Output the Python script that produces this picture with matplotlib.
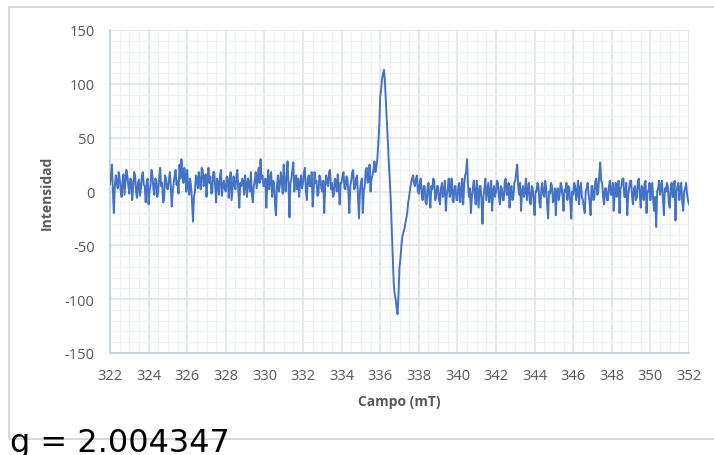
import numpy as np
import matplotlib.pyplot as plt
from matplotlib.patches import Rectangle
from matplotlib.ticker import MultipleLocator

plt.rcParams['axes.unicode_minus'] = False

# Field (mT): 322.00 .. 352.00 step 0.05
campo_start = 322.0
campo_step = 0.05

intensidad = [
    # 322
    7, 15, 25, 0, -20, 5, 15, 8, 3, 18, 12, 2, -5, 10, 16, -3, 8, 20, 14, 5,
    # 323
    -2, 12, 10, -8, 4, 18, 15, 0, -6, 8, 11, -4, 2, 14, 18, 6, 5, -10, 8, 12,
    # 324
    -12, 0, 6, 20, 15, 2, -3, 12, 10, -5, 0, 14, 22, 5, 8, -10, -8, 15, 12, 3,
    # 325
    2, 10, 18, 5, -14, 0, 8, 15, 20, 6, 10, -2, 25, 12, 30, 18, 8, 22, 15, 0,
    # 326
    20, 5, -3, 12, 5, -10, -28, -5, 0, 15, 12, 3, 18, 8, 2, 22, 20, 5, 10, 16,
    # 327
    -5, 10, 22, 8, 14, -2, 0, 18, 18, 5, -10, 12, 8, -3, 15, 20, -4, 6, 10, 2,
    # 328
    0, 14, 12, -6, 8, 18, -8, 3, 14, 6, 2, 15, 20, 0, -15, 8, 5, 12, 10, -3,
    # 329
    15, 6, -5, 12, 8, 0, 18, -3, -10, 5, 10, 18, 3, 12, 22, 8, 30, 12, 15, 5,
    # 330
    5, 12, -15, 8, 20, 2, 12, 18, -5, 10, 8, -12, -22, 5, 15, 0, 5, 18, 10, -2,
    # 331
    25, 10, 0, 15, 28, 5, -24, 8, 12, 20, 27, 0, 10, 15, 2, 12, -5, 8, 15, 3,
    # 332
    8, 18, 22, 0, -8, 12, 15, 5, 5, 18, -14, 0, 18, 8, 10, -4, -2, 15, 12, 3,
    # 333
    0, 10, -20, 5, 15, 8, 5, 18, 20, 2, 8, -5, -3, 12, 10, 0, 16, 5, -12, 8,
    # 334
    8, 15, 18, 3, 2, 14, 12, 0, -20, 5, 10, 18, 20, 2, 4, 12, 15, -5, -25, 0,
    # 335
    8, 12, -20, 0, 5, 20, 22, 8, 10, 25, 0, 12, 15, 20, 28, 18, 22, 30, 45, 60,
    # 336
    88, 95, 105, 110, 113, 100, 82, 62, 45, 25, 10, -10, -35, -60, -85, -95, -100, -108, -114, -95,
    # 337
    -70, -62, -50, -42, -38, -35, -30, -25, -20, -10, -5, 2, 8, 12, 15, 8, 5, 12, 15, 0,
    # 338
    -2, 8, 12, -3, -8, 5, 5, -10, -12, 3, 8, -5, -15, 5, 2, 12, 10, -8, -5, 5,
    # 339
    5, -8, -12, 3, 8, -5, 0, 10, -18, -3, 3, 12, -5, 0, 12, -8, -10, 5, 5, -8,
    # 340
    -8, 5, 8, -10, 0, 12, -12, 5, 15, 18, 30, 5, -5, 3, -20, -5, 3, 10, -3, -12,
    # 341
    10, -2, -15, 5, 5, -8, -30, -5, 3, 12, -8, 0, 8, -10, -2, 10, -18, 0, 5, -5,
    # 342
    0, 10, 8, -5, -12, 5, 3, -8, -8, 8, 12, -3, -3, 8, -15, 0, 5, -8, -5, 8,
    # 343
    10, 18, 25, 5, -3, 8, -18, 0, 5, -5, 0, 12, -8, 3, 8, -10, -12, 5, 3, -8,
    # 344
    -22, 0, 0, 8, 5, -10, -15, 3, 8, -3, -5, 10, 3, -12, -25, 0, -2, 8, 5, -10,
    # 345
    -8, 3, -22, 0, 3, -8, -3, 8, 5, -5, -18, 2, 0, 8, -8, 5, 3, -10, -25, 0,
    # 346
    -3, 8, 5, -8, 0, 10, -12, 3, 8, -5, -8, -15, -20, 0, 3, 8, -3, -10, -22, 5,
    # 347
    5, -8, -5, 10, 12, -3, 0, 15, 27, 10, 8, -5, -12, 3, 3, -8, -8, 5, 10, -3,
    # 348
    -3, 8, -18, 0, 8, -5, 0, 10, -20, 3, 5, 12, 12, -5, -5, 8, -22, -3, 3, 10,
    # 349
    10, -5, -12, 3, 5, -8, -5, 10, 12, -3, -15, 5, 3, -8, 8, 10, -20, 0, 0, 8,
    # 350
    -8, 5, 8, -10, -18, -5, -33, 0, 3, 10, -3, 5, 10, -8, -22, 3, 0, 8, 5, -10,
    # 351
    -15, 3, 8, -5, -5, 10, -27, 0, 5, 8, -8, 3, 8, -10, -18, 0, 3, 8, -3, -8,
    # 352
    -12,
]

x_ticks = [322, 324, 326, 328, 330, 332, 334, 336, 338, 340, 342, 344, 346, 348, 350, 352]
y_ticks = [-150, -100, -50, 0, 50, 100, 150]

campo = campo_start + campo_step * np.arange(len(intensidad))

W, H = 714, 456
fig = plt.figure(figsize=(W / 100, H / 100), dpi=100)

# outer chart border
fig.patches.append(Rectangle((9 / W, 1 - 440 / H), (W + 5 - 9) / W, (440 - 8) / H,
                             transform=fig.transFigure, fill=False,
                             edgecolor='#d9d9d9', linewidth=1.5))

ax = fig.add_axes([110 / W, 1 - 354 / H, (689 - 110) / W, (354 - 31) / H])
ax.plot(campo, intensidad, color='#4472C4', linewidth=1.4, zorder=3)

ax.set_xlim(322, 352)
ax.set_ylim(-150, 150)
ax.set_xticks(x_ticks)
ax.set_yticks(y_ticks)
ax.xaxis.set_minor_locator(MultipleLocator(0.5))
ax.yaxis.set_minor_locator(MultipleLocator(10))
ax.grid(which='major', color='#dde1e8', linewidth=1.1, zorder=1)
ax.grid(which='minor', color='#eef0f4', linewidth=0.9, zorder=0)
ax.set_axisbelow(True)

for s in ['top', 'right']:
    ax.spines[s].set_visible(False)
for s in ['left', 'bottom']:
    ax.spines[s].set_color('#c5ccd8')
    ax.spines[s].set_linewidth(1.2)

ax.tick_params(which='both', length=0)
ax.tick_params(axis='x', pad=11, labelsize=10.5, labelcolor='#595959')
ax.tick_params(axis='y', pad=11, labelsize=10.5, labelcolor='#595959')
for lab in ax.get_xticklabels() + ax.get_yticklabels():
    lab.set_fontfamily('Open Sans')

ax.set_xlabel('Campo (mT)', fontsize=10, fontweight='bold', color='#595959',
              fontfamily='Open Sans', labelpad=8)
ax.set_ylabel('Intensidad', fontsize=10, fontweight='bold', color='#595959',
              fontfamily='Open Sans', labelpad=8)

fig.text(10 / W, 4 / H, 'g = 2.004347', fontsize=23, color='black',
         fontfamily='DejaVu Sans', va='baseline', ha='left')

fig.savefig('out.png', dpi=100)
